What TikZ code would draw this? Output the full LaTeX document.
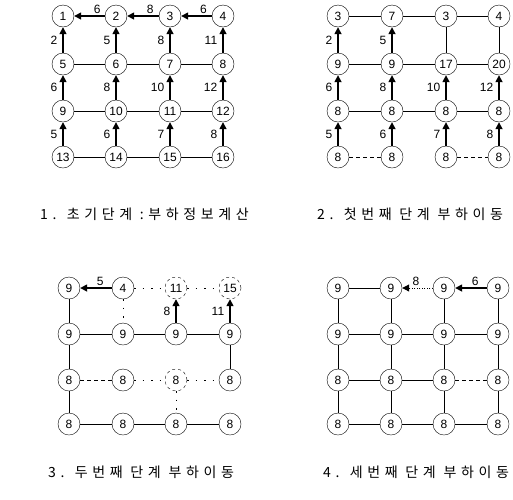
\documentclass[tikz,border=0pt]{standalone}
\usepackage{fontspec}
\setmainfont{Liberation Sans}
\newfontfamily\kor[LetterSpace=33]{Noto Sans CJK KR}
\usetikzlibrary{arrows.meta}

\begin{document}
\begin{tikzpicture}[
        x=1pt, y=1pt,
        bus/.style={draw, circle, thin, minimum size=22pt, inner sep=0pt, font=\fontsize{12}{12}\selectfont},
        offbus/.style={bus, dashed},
        tie/.style={thin},
        opentie/.style={thin, dash pattern=on 4pt off 3pt},
        looptie/.style={thin, dash pattern=on 1.5pt off 7pt},
        arr/.style={-{Triangle[length=7pt, width=7pt]}, line width=1.6pt},
        dotarr/.style={arr, line width=1pt, dash pattern=on 1pt off 1.5pt},
        wt/.style={font=\fontsize{12}{12}\selectfont, inner sep=2pt},
        captxt/.style={anchor=west, inner sep=0pt, font=\kor\fontsize{14}{14}\selectfont}
    ]
    \useasboundingbox (0,0) rectangle (513,-499);

    % 1. initial stage
    \node[bus] (a1) at (63,-16) {1};   \node[bus] (a2) at (116,-16) {2};
    \node[bus] (a3) at (170,-16) {3};  \node[bus] (a4) at (223,-16) {4};
    \node[bus] (a5) at (63,-64) {5};   \node[bus] (a6) at (116,-64) {6};
    \node[bus] (a7) at (170,-64) {7};  \node[bus] (a8) at (223,-64) {8};
    \node[bus] (a9) at (63,-111) {9};  \node[bus] (a10) at (116,-111) {10};
    \node[bus] (a11) at (170,-111) {11}; \node[bus] (a12) at (223,-111) {12};
    \node[bus] (a13) at (63,-157) {13}; \node[bus] (a14) at (116,-157) {14};
    \node[bus] (a15) at (170,-157) {15}; \node[bus] (a16) at (223,-157) {16};

    \draw[arr] (a2) -- node[above, wt, pos=0.25] {6} (a1);
    \draw[arr] (a3) -- node[above, wt, pos=0.27] {8} (a2);
    \draw[arr] (a4) -- node[above, wt, pos=0.27] {6} (a3);
    \draw[arr] (a5) -- node[left=3pt, wt] {2} (a1);
    \draw[arr] (a6) -- node[left=3pt, wt] {5} (a2);
    \draw[arr] (a7) -- node[left=3pt, wt] {8} (a3);
    \draw[arr] (a8) -- node[left=3pt, wt] {11} (a4);
    \draw[arr] (a9) -- node[left=3pt, wt] {6} (a5);
    \draw[arr] (a10) -- node[left=3pt, wt] {8} (a6);
    \draw[arr] (a11) -- node[left=3pt, wt] {10} (a7);
    \draw[arr] (a12) -- node[left=3pt, wt] {12} (a8);
    \draw[arr] (a13) -- node[left=3pt, wt] {5} (a9);
    \draw[arr] (a14) -- node[left=3pt, wt] {6} (a10);
    \draw[arr] (a15) -- node[left=3pt, wt] {7} (a11);
    \draw[arr] (a16) -- node[left=3pt, wt] {8} (a12);
    \draw[tie] (a5) -- (a6) -- (a7) -- (a8);
    \draw[tie] (a9) -- (a10) -- (a11) -- (a12);
    \draw[tie] (a13) -- (a14) -- (a15) -- (a16);

    % 2. first transfer
    \node[bus] (b1) at (338,-16) {3};   \node[bus] (b2) at (392,-16) {7};
    \node[bus] (b3) at (446,-16) {3};   \node[bus] (b4) at (499,-16) {4};
    \node[bus] (b5) at (338,-64) {9};   \node[bus] (b6) at (392,-64) {9};
    \node[bus] (b7) at (446,-64) {17};  \node[bus] (b8) at (499,-64) {20};
    \node[bus] (b9) at (338,-111) {8};  \node[bus] (b10) at (392,-111) {8};
    \node[bus] (b11) at (446,-111) {8}; \node[bus] (b12) at (499,-111) {8};
    \node[bus] (b13) at (338,-157) {8}; \node[bus] (b14) at (392,-157) {8};
    \node[bus] (b15) at (446,-157) {8}; \node[bus] (b16) at (499,-157) {8};

    \draw[tie] (b1) -- (b2) -- (b3) -- (b4);
    \draw[arr] (b5) -- node[left=3pt, wt] {2} (b1);
    \draw[arr] (b6) -- node[left=3pt, wt] {5} (b2);
    \draw[tie] (b7) -- (b3);
    \draw[tie] (b8) -- (b4);
    \draw[tie] (b5) -- (b6) -- (b7) -- (b8);
    \draw[arr] (b9) -- node[left=3pt, wt] {6} (b5);
    \draw[arr] (b10) -- node[left=3pt, wt] {8} (b6);
    \draw[arr] (b11) -- node[left=3pt, wt] {10} (b7);
    \draw[arr] (b12) -- node[left=3pt, wt] {12} (b8);
    \draw[tie] (b9) -- (b10) -- (b11) -- (b12);
    \draw[arr] (b13) -- node[left=3pt, wt] {5} (b9);
    \draw[arr] (b14) -- node[left=3pt, wt] {6} (b10);
    \draw[arr] (b15) -- node[left=3pt, wt] {7} (b11);
    \draw[arr] (b16) -- node[left=3pt, wt] {8} (b12);
    \draw[opentie] (b13) -- (b14);
    \draw[opentie] (b15) -- (b16);

    % 3. second transfer
    \node[bus] (c1) at (69,-288) {9};    \node[bus] (c2) at (123,-288) {4};
    \node[offbus] (c3) at (176,-288) {11}; \node[offbus] (c4) at (230,-288) {15};
    \node[bus] (c5) at (69,-334) {9};    \node[bus] (c6) at (123,-334) {9};
    \node[bus] (c7) at (176,-334) {9};   \node[bus] (c8) at (230,-334) {9};
    \node[bus] (c9) at (69,-380) {8};    \node[bus] (c10) at (123,-380) {8};
    \node[offbus] (c11) at (176,-380) {8}; \node[bus] (c12) at (230,-380) {8};
    \node[bus] (c13) at (69,-424) {8};   \node[bus] (c14) at (123,-424) {8};
    \node[bus] (c15) at (176,-424) {8};  \node[bus] (c16) at (230,-424) {8};

    \draw[arr] (c2) -- node[above, wt, pos=0.37] {5} (c1);
    \draw[looptie] (c2) -- (c3) -- (c4);
    \draw[tie] (c1) -- (c5);
    \draw[looptie] (c2) -- (c6);
    \draw[arr] (c7) -- node[left=3pt, wt] {8} (c3);
    \draw[arr] (c8) -- node[left=3pt, wt] {11} (c4);
    \draw[tie] (c5) -- (c6) -- (c7) -- (c8);
    \draw[tie] (c5) -- (c9);
    \draw[tie] (c8) -- (c12);
    \draw[opentie] (c9) -- (c10);
    \draw[looptie] (c10) -- (c11) -- (c12);
    \draw[tie] (c9) -- (c13);
    \draw[looptie] (c11) -- (c15);
    \draw[tie] (c13) -- (c14) -- (c15) -- (c16);

    % 4. third transfer
    \node[bus] (d1) at (338,-288) {9};   \node[bus] (d2) at (391,-288) {9};
    \node[bus] (d3) at (444,-288) {9};   \node[bus] (d4) at (498,-288) {9};
    \node[bus] (d5) at (338,-334) {9};   \node[bus] (d6) at (391,-334) {9};
    \node[bus] (d7) at (444,-334) {9};   \node[bus] (d8) at (498,-334) {9};
    \node[bus] (d9) at (338,-380) {8};   \node[bus] (d10) at (391,-380) {8};
    \node[bus] (d11) at (444,-380) {8};  \node[bus] (d12) at (498,-380) {8};
    \node[bus] (d13) at (338,-424) {8};  \node[bus] (d14) at (391,-424) {8};
    \node[bus] (d15) at (444,-424) {8};  \node[bus] (d16) at (498,-424) {8};

    \draw[tie] (d1) -- (d2);
    \draw[dotarr] (d3) -- node[above, wt, pos=0.55] {8} (d2);
    \draw[arr] (d4) -- node[above, wt, pos=0.37] {6} (d3);
    \draw[tie] (d1) -- (d5) -- (d9) -- (d13);
    \draw[tie] (d2) -- (d6) -- (d10) -- (d14);
    \draw[tie] (d3) -- (d7) -- (d11) -- (d15);
    \draw[tie] (d4) -- (d8) -- (d12) -- (d16);
    \draw[tie] (d5) -- (d6) -- (d7) -- (d8);
    \draw[tie] (d9) -- (d10) -- (d11);
    \draw[opentie] (d11) -- (d12);
    \draw[tie] (d13) -- (d14) -- (d15) -- (d16);

    % captions
    \node[captxt] (t1) at (40,-214) {1. 초기단계 :부하정보계산};
    \node[captxt] (t2) at (317,-214) {2. 첫번째 단계 부하이동};
    \node[captxt] (t3) at (48,-472) {3. 두번째 단계 부하이동};
    \node[captxt] (t4) at (323,-472) {4. 세번째 단계 부하이동};
\end{tikzpicture}
\end{document}
